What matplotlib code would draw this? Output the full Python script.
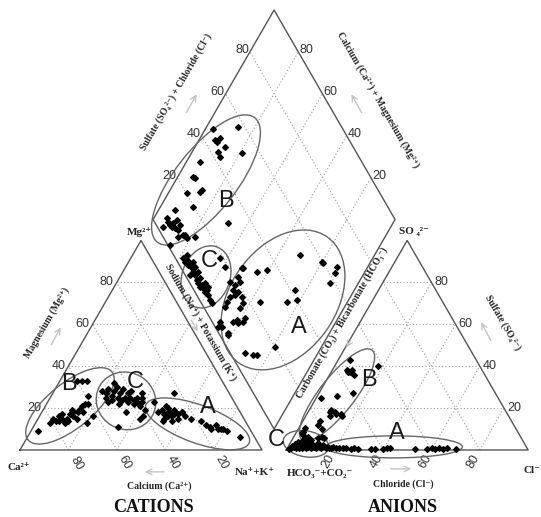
import numpy as np
import matplotlib
matplotlib.use('Agg')
import matplotlib.pyplot as plt
from matplotlib.patches import Ellipse

# ---- data: percentages ----
# cations (Ca %, Mg %)
cat_B_ca = [88, 81, 79, 78, 76, 77, 75, 74, 75, 74, 73, 71, 73, 69, 70, 69, 69, 67, 66, 64, 65, 62, 59, 61, 66, 62, 60, 58, 56]
cat_B_mg = [9, 13, 15, 14, 16, 14, 15, 17, 13, 14, 15, 17, 14, 19, 16, 18, 15, 18, 19, 21, 18, 22, 26, 22, 13, 16, 33, 33, 33]
cat_C_ca = [52, 51, 52, 52, 49, 49, 50, 45, 47, 47, 48, 45, 46, 43, 44, 44, 42, 42, 40, 41, 42, 39, 40, 40, 37, 47, 43, 54, 45, 36, 38, 39, 33, 41]
cat_C_mg = [28, 27, 25, 23, 29, 26, 24, 32, 28, 25, 22, 27, 24, 29, 25, 23, 27, 25, 28, 24, 22, 25, 23, 21, 25, 18, 15, 11, 30, 27, 23, 19, 23, 16]
cat_A_ca = [34, 32, 32, 33, 30, 29, 31, 29, 30, 27, 29, 28, 27, 27, 26, 24, 24, 24, 22, 23, 18, 17, 16, 16, 13, 13, 12, 11, 10, 6, 29, 34]
cat_A_mg = [18, 19, 17, 15, 18, 20, 16, 18, 14, 19, 16, 17, 18, 15, 17, 18, 18, 16, 15, 27, 14, 12, 11, 10, 12, 10, 10, 10, 9, 6, 21, 14]

# anions (Cl %, SO4 %)
an_B_cl = [5, 6, 7, 8, 8, 10, 18, 14, 8, 2, 9, 11, 12, 14, 15, 10, 7, 7, 10, 12, 9]
an_B_so4 = [43, 38, 37, 37, 38, 36, 40, 27, 26, 25, 19, 18, 17, 17, 16, 16, 14, 12, 10, 6, 18]
an_C_cl = [1.7, 2.6, 3.7, 3.6, 5.1, 4.6, 5.4, 4.5, 3.3, 2.6, 6.4, 4.8, 7.9, 6.3, 8.2, 8.0, 9.9, 9.8, 10.9, 12.0,
           11.5, 13.0, 14.1, 14.0, 13.0, 16.1, 16.4, 17.5, 18.2, 18.5, 20.3, 21.6, 23.0, 24.4, 26.6, 27.8,
           2.4, 2.5, 5.8, 7.9, 10.3, 1.0, 2.0, 3.0, 4.0, 6.0, 7.0, 9.0, 1.5]
an_C_so4 = [0.8, 1.6, 0.8, 2.4, 0.8, 3.2, 1.6, 4.8, 7.2, 8.7, 2.4, 5.6, 0.8, 4.0, 1.6, 3.2, 0.8, 2.4, 1.6, 0.8,
            3.2, 1.6, 0.8, 2.4, 5.6, 0.8, 1.6, 0.8, 0.8, 1.6, 0.8, 0.8, 0.8, 0.8, 0.5, 0.8,
            10.4, 8.0, 6.3, 4.8, 5.6, 0.5, 3.0, 4.0, 1.5, 1.0, 3.0, 2.0, 2.0]
an_A_cl = [29.4, 35.0, 36.5, 40.0, 41.3, 42.7, 53.0, 57.9, 59.9, 61.3, 62.7, 64.8, 66.1, 70.2]
an_A_so4 = [0.3, 0.3, 0.3, 0.3, 0.8, 0.8, 0.3, 0.3, 0.8, 0.3, 0.8, 0.3, 0.8, 0.3]

# diamond (SO4+Cl %, Ca+Mg %)
dia_B_s = [46.6, 57.3, 44.5, 44.8, 47, 47, 43.1, 42.6, 52.4, 33.2, 26.8, 27.1, 27.1, 26, 20.1, 19.7, 11.3,
           5.9, 5.8, 5.7, 6, 7.4, 7, 9.6, 7.9, 9.8, 6.3, 8.8, 9.4, 13.2, 0.9, 30.1, 2.5, 9.5]
dia_B_c = [96.8, 86.9, 93.3, 92.2, 91.7, 87.6, 89.2, 87.3, 79.2, 94.4, 93.6, 92.5, 86.9, 87.2, 92.4, 86.5, 93.2,
           94.7, 93.2, 91.7, 90.6, 90.7, 88.9, 90.1, 87.1, 87.6, 85.5, 83.8, 81.6, 78.6, 86.9, 68, 94, 83.1]
dia_C_s = [3.2, 3.1, 4.2, 3.7, 4.8, 4.3, 4.1, 4.1, 3.6, 3.5, 3.4, 4.5, 4.3, 4.2, 5.3, 4.8, 4.3, 4.2,
           6, 6.2, 5.4, 6.2, 6.8, 18.4, 18.4, 17, 2, 5.4, 6.5]
dia_C_c = [78.2, 76.7, 76.4, 74.6, 74.3, 72.4, 70.9, 69.5, 67.6, 66, 64.5, 64.3, 62.8, 61.3, 61, 59.2, 57.3, 55.8,
           71.4, 68.8, 66.6, 63.3, 61.2, 63.1, 59, 53.4, 71.5, 77.6, 73.3]
dia_A_s = [25, 21.6, 21, 18.2, 16.3, 18, 18.2, 13.3, 10.8, 8.9, 15.8, 17.3, 14.7, 10.6, 8.8, 10.4, 12.9, 14.4,
           3.2, 2.7, 3.9, 1.3, 30.3, 34.9, 24.5, 35.6, 20, 52.2, 59.6, 64.6, 62.3, 57.9, 41.8, 40.1, 25.6,
           59.9, 9, 6.2, 10.5, 3.4]
dia_A_c = [51.8, 51.2, 49.2, 50.5, 50, 47.6, 45, 49.8, 50, 49.5, 48.1, 42.7, 42.9, 41.4, 42.4, 40, 38.3, 38.4,
           48, 46, 41.8, 47.4, 44.7, 41, 36.2, 25.2, 19.3, 30.8, 20.3, 12.9, 12, 11.7, 24.5, 21.4, 51.1,
           19.2, 26.4, 30, 24.9, 41.5]

TICKS = [20, 40, 60, 80]

# ---- geometry ----
H = np.sqrt(3) / 2 * 100
GAP = 10


def cation_xy(ca, mg):
    ca = np.asarray(ca, float); mg = np.asarray(mg, float)
    nak = 100 - ca - mg
    return nak + mg / 2, mg * H / 100


def anion_xy(cl, so4):
    cl = np.asarray(cl, float); so4 = np.asarray(so4, float)
    return 100 + GAP + cl + so4 / 2, so4 * H / 100


def diamond_xy(s, c):
    s = np.asarray(s, float); c = np.asarray(c, float)
    return 100 + GAP / 2 + (s - c) / 2, GAP * H / 100 + H * (s + c) / 100


def P(px, py):
    # pixel position of the original image -> data units (for labels)
    return -8.26 + px / 2.42, 186.0 - py / 2.42


SERIF = ['Liberation Serif', 'DejaVu Serif']
SANS = ['Liberation Sans', 'DejaVu Sans']
EDGE = '#555555'
GRID = '#a0a0a0'

fig = plt.figure(figsize=(5.41, 5.17), dpi=100)
ax = fig.add_axes([0, 0, 1, 1])
ax.set_xlim(-8.26, 215.3)
ax.set_ylim(-27.7, 186.0)
ax.axis('off')


def seg(p, q, **kw):
    ax.plot([p[0], q[0]], [p[1], q[1]], **kw)


gkw = dict(color=GRID, lw=0.8, ls=(0, (1, 2)), zorder=1)
for v in TICKS:
    # cation triangle
    seg(cation_xy(100 - v, v), cation_xy(0, v), **gkw)
    seg(cation_xy(v, 0), cation_xy(v, 100 - v), **gkw)
    seg(cation_xy(100 - v, 0), cation_xy(0, 100 - v), **gkw)
    # anion triangle
    seg(anion_xy(0, v), anion_xy(100 - v, v), **gkw)
    seg(anion_xy(v, 0), anion_xy(v, 100 - v), **gkw)
    seg(anion_xy(100 - v, 0), anion_xy(0, 100 - v), **gkw)
    # diamond
    seg(diamond_xy(v, 0), diamond_xy(v, 100), **gkw)
    seg(diamond_xy(0, v), diamond_xy(100, v), **gkw)

# outlines
ekw = dict(color=EDGE, lw=1.0, zorder=2)
tri = [cation_xy(100, 0), cation_xy(0, 0), cation_xy(0, 100), cation_xy(100, 0)]
ax.plot([p[0] for p in tri], [p[1] for p in tri], **ekw)
tri = [anion_xy(0, 0), anion_xy(100, 0), anion_xy(0, 100), anion_xy(0, 0)]
ax.plot([p[0] for p in tri], [p[1] for p in tri], **ekw)
dia = [diamond_xy(0, 0), diamond_xy(100, 0), diamond_xy(100, 100), diamond_xy(0, 100), diamond_xy(0, 0)]
ax.plot([p[0] for p in dia], [p[1] for p in dia], **ekw)

# tick labels
tkw = dict(fontsize=9, color='#333333', family=SANS)
for v in TICKS:
    x, y = cation_xy(100 - v, v)
    ax.text(x - 1.3, y, str(v), ha='right', va='center', **tkw)
    x, y = cation_xy(v, 0)
    ax.text(x + 3.2, y - 5.4, str(v), ha='center', va='center', rotation=-60, **tkw)
    x, y = anion_xy(100 - v, v)
    ax.text(x + 1.3, y, str(v), ha='left', va='center', **tkw)
    x, y = anion_xy(v, 0)
    ax.text(x - 2.6, y - 4.6, str(v), ha='center', va='center', rotation=60, **tkw)
    x, y = diamond_xy(v, 100)
    ax.text(x - 0.4, y + 0.6, str(v), ha='right', va='center', **tkw)
    x, y = diamond_xy(100, v)
    ax.text(x + 0.4, y + 0.6, str(v), ha='left', va='center', **tkw)

# points
mkw = dict(ls='none', marker='D', ms=2.9, color='black', zorder=4)
for ca, mg in [(cat_A_ca, cat_A_mg), (cat_B_ca, cat_B_mg), (cat_C_ca, cat_C_mg)]:
    ax.plot(*cation_xy(ca, mg), **mkw)
for cl, so4 in [(an_A_cl, an_A_so4), (an_B_cl, an_B_so4), (an_C_cl, an_C_so4)]:
    ax.plot(*anion_xy(cl, so4), **mkw)
for s, c in [(dia_A_s, dia_A_c), (dia_B_s, dia_B_c), (dia_C_s, dia_C_c)]:
    ax.plot(*diamond_xy(s, c), **mkw)

# group ellipses (centre in pixels of the original, size in data units)
ellipses = [
    ((70, 406), 44.6, 18.6, 39), ((126, 401), 25.0, 23.5, -30), ((197.5, 424), 45.5, 15.7, -20),
    ((337, 395), 47.0, 14.5, 52), ((306, 444), 19.0, 10.7, -10), ((394, 447), 56.6, 9.1, 0),
    ((206, 180), 65.3, 25.6, 52), ((206, 277), 26.4, 19.8, 70), ((283, 300), 63.6, 43.8, 55),
]
for c, w, h, a in ellipses:
    ax.add_patch(Ellipse(P(*c), w, h, angle=a, fill=False, ec='#666666', lw=1.0, zorder=3))

# group letters
for t, (px, py) in [('B', (68.5, 384)), ('C', (135, 382)), ('A', (207.5, 407)),
                    ('B', (369, 380)), ('C', (276, 440)), ('A', (397, 433)),
                    ('B', (226, 201)), ('C', (209, 261)), ('A', (299, 327))]:
    ax.text(*P(px, py), t, fontsize=17, family=SANS, color='#1a1a1a',
            ha='center', va='center', zorder=5)

# axis titles
akw = dict(fontsize=7, family=SERIF, fontweight='bold', color='#222222',
           ha='center', va='center', rotation_mode='anchor')
ax.text(*P(46.5, 323), 'Magnesium (Mg²⁺)', rotation=60, **akw)
ax.text(*P(200, 322), 'Sodium (Na⁺) + Potassium (K⁺)', rotation=-60, **akw)
ax.text(*P(159, 486), 'Calcium (Ca²⁺)', **akw)
ax.text(*P(342, 323), 'Carbonate (CO₃) + Bicarbonate (HCO₃⁻)', rotation=60, **akw)
ax.text(*P(503, 323), 'Sulfate (SO₄²⁻)', rotation=-60, **akw)
ax.text(*P(403, 484), 'Chloride (Cl⁻)', **akw)
ax.text(*P(176.5, 92), 'Sulfate (SO₄²⁻) + Chloride (Cl⁻)', rotation=60, **akw)
ax.text(*P(377.5, 100), 'Calcium (Ca²⁺) + Magnesium (Mg²⁺)', rotation=-60, **akw)

# direction arrows
for (x0, y0), (x1, y1) in [((50, 347), (62, 325)), ((190, 318), (199, 334)), ((167, 472), (142, 472)),
                           ((352, 338), (345, 350)), ((492, 343), (480, 320)), ((388, 469), (414, 469)),
                           ((185, 115), (198, 92)), ((363, 115), (350, 92))]:
    ax.annotate('', xy=P(x1, y1), xytext=P(x0, y0),
                arrowprops=dict(arrowstyle='->', color='#c4c4c4', lw=1.0))

# corner labels
vkw = dict(fontsize=8, family=SERIF, fontweight='bold', color='#222222', va='center')
ax.text(*P(139, 232), 'Mg²⁺', ha='center', **vkw)
ax.text(*P(19, 468), 'Ca²⁺', ha='center', **vkw)
ax.text(*P(255, 473), 'Na⁺+K⁺', ha='center', **vkw)
ax.text(*P(320, 474), 'HCO₃⁻+CO₂⁻', ha='center', **vkw)
ax.text(*P(414, 232), 'SO ₄²⁻', ha='center', **vkw)
ax.text(*P(524, 471), 'Cl⁻', ha='left', **vkw)

ax.text(*P(153, 508), 'CATIONS', fontsize=13, family=SERIF, fontweight='bold',
        color='#111111', ha='center', va='center')
ax.text(*P(403, 508), 'ANIONS', fontsize=13, family=SERIF, fontweight='bold',
        color='#111111', ha='center', va='center')

fig.savefig('out.png', dpi=100)
